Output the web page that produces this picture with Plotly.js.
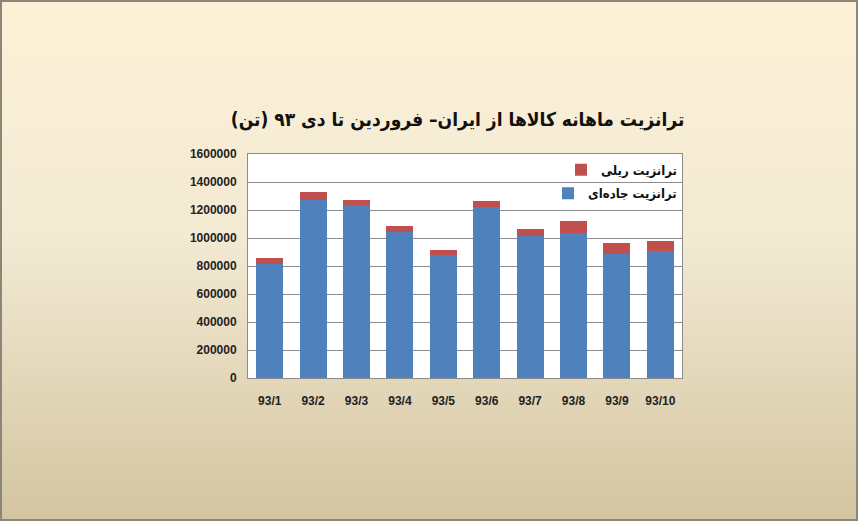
<!DOCTYPE html>
<html>
<head>
<meta charset="utf-8">
<script src="https://cdn.plot.ly/plotly-3.0.1.min.js"></script>
<style>
  html, body { margin: 0; padding: 0; }
  #chart {
    width: 858px; height: 521px; box-sizing: border-box;
    border: 2px solid #8a8678;
    background: linear-gradient(to bottom, #fdf0d6 0%, #f3ead4 45%, #d3c5a0 100%);
  }
</style>
</head>
<body>
<div id="chart"></div>
<script>
// ماه‌ها
var months = ['93/1', '93/2', '93/3', '93/4', '93/5', '93/6', '93/7', '93/8', '93/9', '93/10'];
// ترانزیت جاده‌ای (تن)
var roadValues = [817000, 1275000, 1235000, 1043000, 881000, 1224000, 1015000, 1036000, 883000, 909000];
// ترانزیت ریلی (تن)
var railValues = [43000, 57000, 40000, 42000, 35000, 37000, 49000, 87000, 78000, 71000];
var yTicks = [0, 200000, 400000, 600000, 800000, 1000000, 1200000, 1400000, 1600000];

var faFont = '"DejaVu Sans Condensed", "DejaVu Sans", sans-serif';
var numFont = '"Liberation Sans", Arial, sans-serif';

var data = [
    {
        x: months, y: roadValues, type: 'bar', name: '<b>ترانزیت جاده‌ای</b>',
        marker: {color: '#4f81bd'}, legend: 'legend2', hoverinfo: 'y'
    },
    {
        x: months, y: railValues, type: 'bar', name: '<b>ترانزیت ریلی</b>',
        marker: {color: '#c0504d'}, legend: 'legend', hoverinfo: 'y'
    }
];

var legendStyle = {
    xref: 'paper', yref: 'paper', x: 1, xanchor: 'right', yanchor: 'middle',
    bgcolor: 'rgba(0,0,0,0)', borderwidth: 0,
    font: {family: faFont, size: 13, color: '#111'},
    itemwidth: 30
};

var layout = {
    width: 858, height: 521,
    paper_bgcolor: 'rgba(0,0,0,0)',
    plot_bgcolor: '#ffffff',
    margin: {l: 246, r: 178, t: 152, b: 145},
    barmode: 'stack',
    bargap: 0.38,
    showlegend: true,
    title: {
        text: '<b>ترانزیت ماهانه کالاها از ایران– فروردین تا دی ۹۳ (تن)</b>',
        font: {family: faFont, size: 19, color: '#111'},
        xref: 'container', yref: 'container', x: 0.531, xanchor: 'center',
        y: 0.775, yanchor: 'middle'
    },
    legend: Object.assign({}, legendStyle, {y: 0.93}),
    legend2: Object.assign({}, legendStyle, {y: 0.825}),
    xaxis: {
        type: 'category',
        tickvals: months,
        ticktext: months.map(function(m) { return '<b>' + m + '</b>'; }),
        showline: true, mirror: true, linecolor: '#8c8c8c', linewidth: 1,
        ticks: '', ticklabelstandoff: 12,
        tickfont: {family: numFont, size: 12, color: '#222'}
    },
    yaxis: {
        range: [0, 1600000],
        tickvals: yTicks,
        ticktext: yTicks.map(function(v) { return '<b>' + v + '</b>'; }),
        showline: true, mirror: true, linecolor: '#8c8c8c', linewidth: 1,
        showgrid: true, gridcolor: '#8c8c8c', gridwidth: 1,
        zeroline: false, ticks: '', ticklabelstandoff: 8,
        tickfont: {family: numFont, size: 12, color: '#222'}
    }
};

Plotly.newPlot('chart', data, layout, {displayModeBar: false, staticPlot: true});
</script>
</body>
</html>
